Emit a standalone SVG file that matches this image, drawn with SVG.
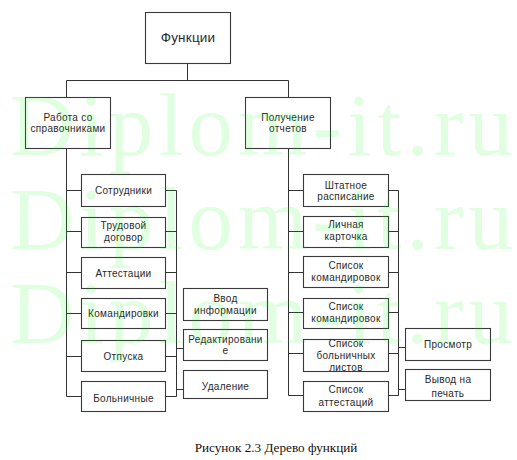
<svg xmlns="http://www.w3.org/2000/svg" width="517" height="460" viewBox="0 0 517 460">
<style>
.box{fill:none;stroke:#3a3a3a;stroke-width:1.1}
.t{font-family:"Liberation Sans",Arial,sans-serif;font-size:10px;letter-spacing:0.3px;fill:#2a2a2a;text-anchor:middle}
.big{font-size:13.5px;letter-spacing:0.2px}
.wm{font-family:"Liberation Serif","Times New Roman",serif;font-size:89px;fill:#00ff00;fill-opacity:0.12}
.cap{font-family:"Liberation Serif","Times New Roman",serif;font-size:13.2px;fill:#111;text-anchor:middle}
#connectors path{fill:none;stroke:#333;stroke-width:1}
</style>
<rect width="517" height="460" fill="#fff"/>
<g id="connectors">
<path d="M187.5 63V80.5M66.5 80.5H288.5M66.5 80.5V97M288.5 80.5V97"/>
<path d="M66.5 148V396.5M66.5 190.5H81M66.5 231.5H81M66.5 272.5H81M66.5 313.5H81M66.5 356.5H81M66.5 396.5H81"/>
<path d="M166 190.5H176.5M166 231.5H176.5M166 272.5H176.5M166 313.5H176.5M166 356.5H176.5M166 396.5H176.5M176.5 190.5V396.5M176.5 348.5H183M176.5 389.5H183"/>
<path d="M288.5 148V395.5M288.5 190.5H303M288.5 231.5H303M288.5 272.5H303M288.5 312.5H303M288.5 353.5H303M288.5 395.5H303"/>
<path d="M388 190.5H398.5M388 231.5H398.5M388 272.5H398.5M388 312.5H398.5M388 353.5H398.5M388 395.5H398.5M398.5 190.5V395.5M398.5 347.5H406M398.5 389.5H406"/>
</g>
<g id="n_root"><rect class="box" x="145.5" y="12.5" width="85" height="51"/><text class="t big" x="188" y="42">Функции</text></g>
<g id="n_ref"><rect class="box" x="25.5" y="97.5" width="85" height="51"/><text class="t" x="68" y="120.5">Работа со</text><text class="t" x="68" y="132">справочниками</text></g>
<g id="n_rep"><rect class="box" x="245.5" y="97.5" width="85" height="51"/><text class="t" x="288" y="120.5">Получение</text><text class="t" x="288" y="132">отчетов</text></g>
<g id="n_emp"><rect class="box" x="81.5" y="174.5" width="84" height="32"/><text class="t" x="123.5" y="193.5">Сотрудники</text></g>
<g id="n_contract"><rect class="box" x="81.5" y="217.5" width="84" height="30"/><text class="t" x="123.5" y="229">Трудовой</text><text class="t" x="123.5" y="241">договор</text></g>
<g id="n_att"><rect class="box" x="81.5" y="257.5" width="84" height="31"/><text class="t" x="123.5" y="276.5">Аттестации</text></g>
<g id="n_trip"><rect class="box" x="81.5" y="298.5" width="84" height="30"/><text class="t" x="123.5" y="317">Командировки</text></g>
<g id="n_vac"><rect class="box" x="81.5" y="340.5" width="84" height="31"/><text class="t" x="123.5" y="359.5">Отпуска</text></g>
<g id="n_sick"><rect class="box" x="81.5" y="381.5" width="84" height="30"/><text class="t" x="123.5" y="401.5">Больничные</text></g>
<g id="n_input"><rect class="box" x="183.5" y="288.5" width="84" height="32"/><text class="t" x="225.5" y="301.5">Ввод</text><text class="t" x="225.5" y="313.5">информации</text></g>
<g id="n_edit"><rect class="box" x="183.5" y="329.5" width="84" height="31"/><text class="t" x="225.5" y="342.5">Редактировани</text><text class="t" x="225.5" y="354">е</text></g>
<g id="n_del"><rect class="box" x="183.5" y="370.5" width="84" height="28"/><text class="t" x="225.5" y="389.5">Удаление</text></g>
<g id="n_staff"><rect class="box" x="303.5" y="174.5" width="85" height="32"/><text class="t" x="346" y="188.5">Штатное</text><text class="t" x="346" y="200">расписание</text></g>
<g id="n_card"><rect class="box" x="303.5" y="216.5" width="85" height="31"/><text class="t" x="346" y="227.5">Личная</text><text class="t" x="346" y="239.5">карточка</text></g>
<g id="n_trips1"><rect class="box" x="303.5" y="256.5" width="85" height="31"/><text class="t" x="346" y="268.5">Список</text><text class="t" x="346" y="281">командировок</text></g>
<g id="n_trips2"><rect class="box" x="303.5" y="298.5" width="85" height="30"/><text class="t" x="346" y="310">Список</text><text class="t" x="346" y="322">командировок</text></g>
<g id="n_sicklist"><rect class="box" x="303.5" y="339.5" width="85" height="32"/><text class="t" x="346" y="346.5">Список</text><text class="t" x="346" y="358.5">больничных</text><text class="t" x="346" y="371">листов</text></g>
<g id="n_attlist"><rect class="box" x="303.5" y="381.5" width="85" height="30"/><text class="t" x="346" y="393">Список</text><text class="t" x="346" y="406">аттестаций</text></g>
<g id="n_view"><rect class="box" x="405.5" y="328.5" width="85" height="32"/><text class="t" x="448" y="348">Просмотр</text></g>
<g id="n_print"><rect class="box" x="405.5" y="369.5" width="85" height="31"/><text class="t" x="448" y="383">Вывод на</text><text class="t" x="448" y="396.5">печать</text></g>
<g id="watermark">
<text class="wm" x="10" y="155" textLength="503" lengthAdjust="spacing">Diplom-it.ru</text>
<text class="wm" x="10" y="249" textLength="503" lengthAdjust="spacing">Diplom-it.ru</text>
<text class="wm" x="10" y="343" textLength="503" lengthAdjust="spacing">Diplom-it.ru</text>
</g>
<text class="cap" x="276" y="452">Рисунок 2.3 Дерево функций</text>
</svg>
